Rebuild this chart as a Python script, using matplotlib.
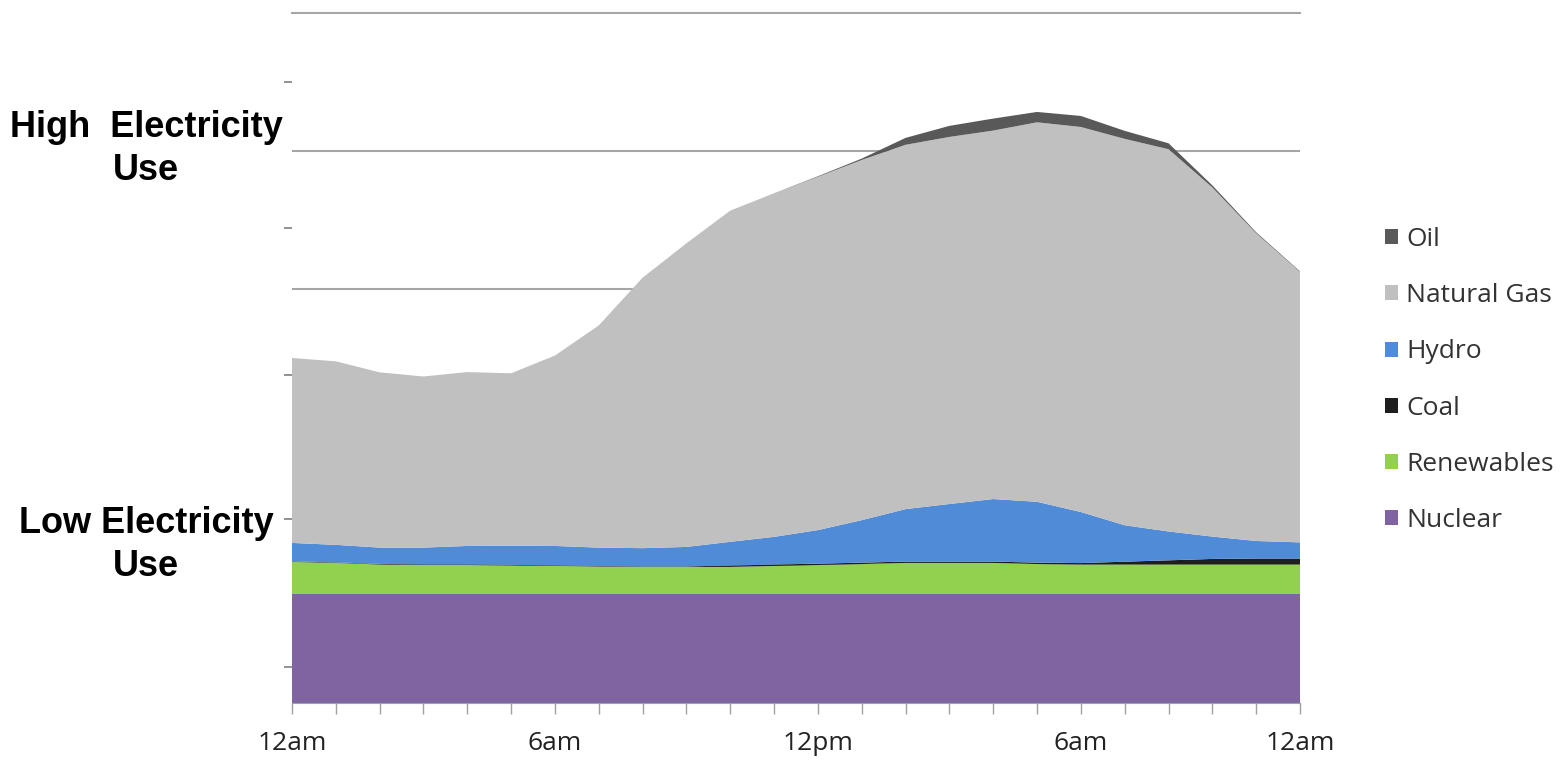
import numpy as np
import matplotlib
matplotlib.use("Agg")
from matplotlib import pyplot as plt
from matplotlib.patches import Patch

# Hourly generation mix, stacked from the bottom up
hours = np.arange(24)
nuclear = [7.9] * 24
renewables = [2.32, 2.25, 2.14, 2.10, 2.10, 2.07, 2.03, 1.99, 1.96, 1.96, 1.96, 2.03,
              2.10, 2.17, 2.25, 2.25, 2.25, 2.17, 2.14, 2.14, 2.14, 2.14, 2.14, 2.14]
coal = [0.04, 0.04, 0.04, 0.04, 0.04, 0.04, 0.04, 0.04, 0.04, 0.04, 0.1, 0.1,
        0.1, 0.1, 0.1, 0.1, 0.1, 0.1, 0.1, 0.2, 0.3, 0.4, 0.43, 0.43]
hydro = [1.34, 1.27, 1.18, 1.22, 1.34, 1.38, 1.41, 1.33, 1.32, 1.41, 1.72, 2.01,
         2.43, 3.08, 3.80, 4.17, 4.53, 4.41, 3.70, 2.64, 2.09, 1.62, 1.27, 1.17]
gas = [13.4, 13.3, 12.7, 12.4, 12.6, 12.5, 13.8, 16.1, 19.6, 22.0, 24.0, 24.9,
       25.6, 26.1, 26.4, 26.6, 26.7, 27.5, 27.9, 28.0, 27.7, 25.3, 22.3, 19.6]
oil = [0, 0, 0, 0, 0, 0, 0, 0, 0, 0, 0, 0,
       0.04, 0.1, 0.5, 0.8, 0.87, 0.75, 0.8, 0.58, 0.43, 0.15, 0.07, 0.04]

tick_pos = [0, 6, 12, 18, 23]
tick_labels = ["12am", "6am", "12pm", "6am", "12am"]
sources = ["Nuclear", "Renewables", "Coal", "Hydro", "Natural Gas", "Oil"]
colors = ["#8064A2", "#92D050", "#1E1E1E", "#4F8BD6", "#C0C0C0", "#595959"]

fig = plt.figure(figsize=(15.68, 7.6), dpi=100)
ax = fig.add_axes([292 / 1568, 1 - 703 / 760, 1008 / 1568, 690 / 760])

# grid lines sit behind the stacked areas
for g in [10, 20, 30, 40]:
    ax.axhline(g, color="#A6A6A6", lw=1.5, zorder=0)
ax.axhline(50, color="#A6A6A6", lw=1.5, zorder=0, clip_on=False)

ax.stackplot(hours, nuclear, renewables, coal, hydro, gas, oil,
             colors=colors, linewidth=0, zorder=2)

ax.set_xlim(0, 23)
ax.set_ylim(0, 50)

ax.set_xticks(tick_pos)
ax.set_xticklabels(tick_labels, fontfamily="Open Sans", fontsize=19, color="#222222")
ax.set_xticks(hours, minor=True)
ax.tick_params(axis="x", which="both", length=8, width=1, color="#A0A0A0",
               direction="out", pad=12)

ax.set_yticks([2.6, 13.3, 23.8, 34.4, 45.0])
ax.set_yticklabels([])
ax.tick_params(axis="y", length=6, width=1.2, color="#808080", direction="out")

for side in ["top", "right", "left"]:
    ax.spines[side].set_visible(False)
ax.spines["bottom"].set_color("#A0A0A0")
ax.spines["bottom"].set_zorder(3)

# usage labels on the left
lab = dict(ha="center", va="center", fontsize=26, fontweight="bold",
           fontfamily="Liberation Sans", linespacing=1.3)
fig.text(146 / 1568, 1 - 149 / 760, "High  Electricity\nUse", **lab)
fig.text(146 / 1568, 1 - 545 / 760, "Low Electricity\nUse", **lab)

handles = [Patch(facecolor=c, edgecolor="none", label=s)
           for s, c in zip(sources[::-1], colors[::-1])]
leg = fig.legend(handles=handles, loc="center left",
                 bbox_to_anchor=(1385 / 1568, 1 - 380 / 760),
                 frameon=False, prop={"family": "Open Sans", "size": 19},
                 handlelength=0.5, handleheight=0.5, handletextpad=0.3,
                 labelspacing=1.18, borderpad=0, borderaxespad=0)
for t in leg.get_texts():
    t.set_color("#333333")

fig.savefig("out.png", dpi=100)
